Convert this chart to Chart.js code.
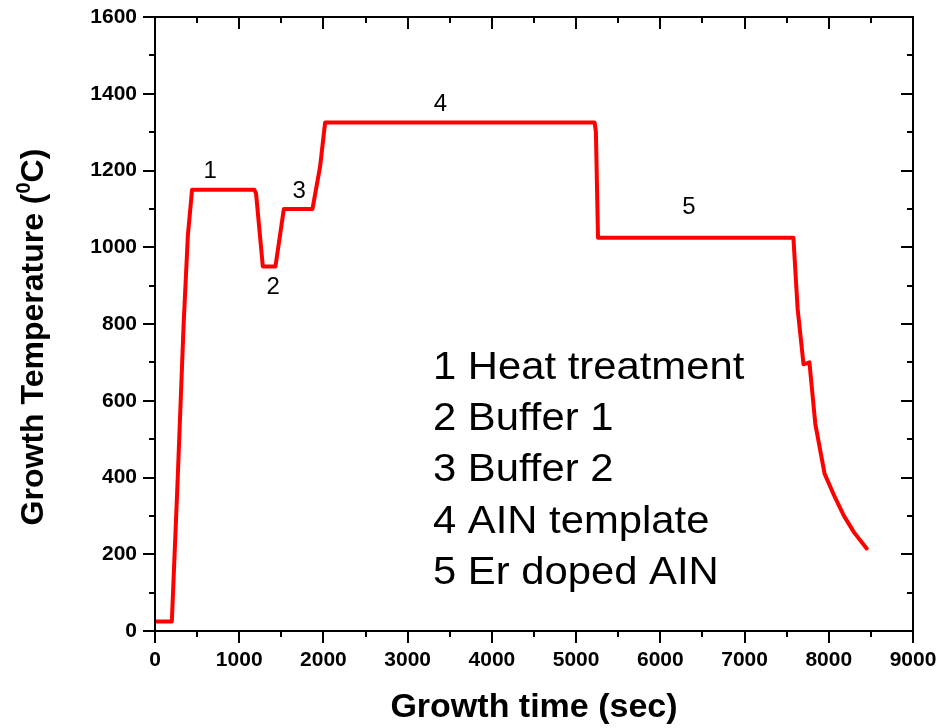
<!DOCTYPE html>
<html>
<head>
<meta charset="utf-8">
<script src="https://cdn.jsdelivr.net/npm/chart.js@4/dist/chart.umd.min.js"></script>
<style>
  html, body { margin: 0; padding: 0; background: #ffffff; }
  #wrap { width: 941px; height: 728px; }
</style>
</head>
<body>
<div id="wrap"><canvas id="c" width="941" height="728"></canvas></div>
<script>
// ---- Data ----
const timeSec = [0, 200, 270, 340, 390, 440, 1180, 1200, 1280, 1430, 1530, 1870, 1960, 2020, 5220, 5235, 5260, 7580, 7630, 7700, 7770, 7840, 7950, 8070, 8180, 8300, 8450];
const tempC   = [25, 25, 400, 800, 1030, 1150, 1150, 1140, 950, 950, 1100, 1100, 1210, 1325, 1325, 1300, 1025, 1025, 840, 695, 700, 540, 410, 350, 300, 257, 215];
const xTicks = [0, 1000, 2000, 3000, 4000, 5000, 6000, 7000, 8000, 9000];
const yTicks = [0, 200, 400, 600, 800, 1000, 1200, 1400, 1600];
const stageNumbers = ["1", "2", "3", "4", "5"];
const stageNumberTime = [654, 1403, 1712, 3389, 6338];
const stageNumberTemp = [1197, 896, 1146, 1373, 1105];
const stageNames = ["1 Heat treatment", "2 Buffer 1", "3 Buffer 2", "4 AIN template", "5 Er doped AIN"];
const stageNameTemp = [657, 524, 391, 255, 122];
const stageNameTime = 3300;

const FONT = '"Liberation Sans", Arial, Helvetica, sans-serif';
const points = timeSec.map((t, i) => ({ x: t, y: tempC[i] }));

const framePlugin = {
  id: 'frame',
  afterDraw(chart) {
    const ctx = chart.ctx;
    const xs = chart.scales.x, ys = chart.scales.y;
    const { left, right, top, bottom } = chart.chartArea;
    ctx.save();
    ctx.strokeStyle = '#000';
    ctx.lineWidth = 2;
    ctx.lineCap = 'butt';
    ctx.strokeRect(left, top, right - left, bottom - top);
    for (let v = 0; v <= 9000; v += 500) {
      const px = Math.round(xs.getPixelForValue(v));
      const len = (v % 1000 === 0) ? 12 : 6;
      ctx.beginPath();
      ctx.moveTo(px, bottom); ctx.lineTo(px, bottom + len);
      ctx.moveTo(px, top); ctx.lineTo(px, top + len);
      ctx.stroke();
    }
    for (let v = 0; v <= 1600; v += 100) {
      const py = Math.round(ys.getPixelForValue(v));
      const len = (v % 200 === 0) ? 12 : 6;
      ctx.beginPath();
      ctx.moveTo(left, py); ctx.lineTo(left - len, py);
      ctx.moveTo(right, py); ctx.lineTo(right - len, py);
      ctx.stroke();
    }
    ctx.fillStyle = '#000';
    ctx.font = '24px ' + FONT;
    ctx.textAlign = 'center';
    ctx.textBaseline = 'middle';
    stageNumbers.forEach((s, i) => {
      ctx.fillText(s, xs.getPixelForValue(stageNumberTime[i]), ys.getPixelForValue(stageNumberTemp[i]));
    });
    ctx.textAlign = 'left';
    ctx.textBaseline = 'alphabetic';
    ctx.font = '38px ' + FONT;
    stageNames.forEach((s, i) => {
      const x = xs.getPixelForValue(stageNameTime);
      const y = ys.getPixelForValue(stageNameTemp[i]);
      ctx.save();
      ctx.translate(x, y);
      ctx.scale(1.1, 1);
      ctx.fillText(s, 0, 0);
      ctx.restore();
    });
    ctx.save();
    ctx.translate(34, 337);
    ctx.rotate(-Math.PI / 2);
    ctx.textBaseline = 'middle';
    const bold = 'bold 32px ' + FONT;
    const sup = 'bold 20px ' + FONT;
    const p1 = 'Growth Temperature (', p2 = '0', p3 = 'C)';
    ctx.font = bold; const w1 = ctx.measureText(p1).width; const w3 = ctx.measureText(p3).width;
    ctx.font = sup; const w2 = ctx.measureText(p2).width;
    let x0 = -(w1 + w2 + w3) / 2;
    ctx.textAlign = 'left';
    ctx.font = bold; ctx.fillText(p1, x0, 0);
    ctx.font = sup; ctx.fillText(p2, x0 + w1, -10);
    ctx.font = bold; ctx.fillText(p3, x0 + w1 + w2, 0);
    ctx.restore();
    ctx.restore();
  }
};

new Chart(document.getElementById('c'), {
  type: 'line',
  data: {
    datasets: [{
      data: points,
      borderColor: '#ff0000',
      borderWidth: 4,
      pointRadius: 0,
      fill: false,
      tension: 0,
      borderJoinStyle: 'round',
      borderCapStyle: 'round'
    }]
  },
  options: {
    responsive: false,
    animation: false,
    devicePixelRatio: 1,
    layout: { padding: { top: 17, right: 28, left: 0, bottom: 0 } },
    plugins: { legend: { display: false }, tooltip: { enabled: false } },
    scales: {
      x: {
        type: 'linear',
        min: 0, max: 9000,
        grid: { display: false, drawTicks: false },
        border: { display: false },
        afterBuildTicks(scale) { scale.ticks = xTicks.map(v => ({ value: v })); },
        afterFit(scale) { scale.height = 97; scale.paddingLeft = 0; scale.paddingRight = 0; },
        ticks: {
          color: '#000',
          padding: 17,
          maxRotation: 0,
          font: { family: FONT, size: 21, weight: 'bold' },
          callback: v => String(v)
        },
        title: {
          display: true,
          text: 'Growth time (sec)',
          color: '#000',
          padding: { top: 0, bottom: 0 },
          font: { family: FONT, size: 34, weight: 'bold' }
        }
      },
      y: {
        type: 'linear',
        min: 0, max: 1600,
        grid: { display: false, drawTicks: false },
        border: { display: false },
        afterBuildTicks(scale) { scale.ticks = yTicks.map(v => ({ value: v })); },
        afterFit(scale) { scale.width = 155; scale.paddingTop = 0; scale.paddingBottom = 0; },
        ticks: {
          color: '#000',
          padding: 18,
          font: { family: FONT, size: 21, weight: 'bold' },
          callback: v => String(v)
        }
      }
    }
  },
  plugins: [framePlugin]
});
</script>
</body>
</html>
